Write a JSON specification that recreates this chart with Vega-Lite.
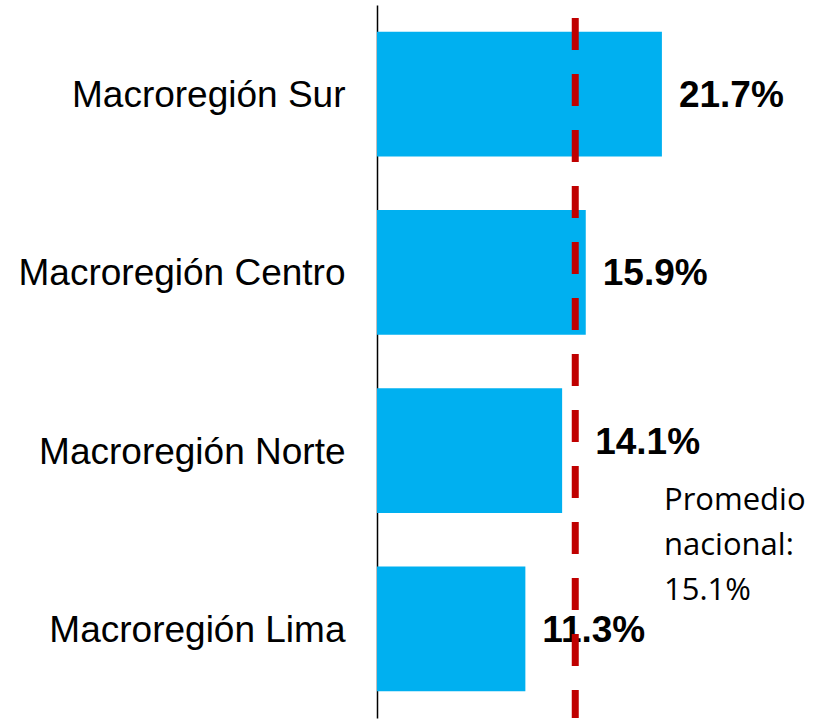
{
  "$schema": "https://vega.github.io/schema/vega-lite/v6.json",
  "autosize": "none",
  "width": 438,
  "height": 713,
  "padding": {"left": 377, "top": 5, "right": 0, "bottom": 3},
  "background": "white",
  "config": {"view": {"stroke": null}},
  "datasets": {
    "bars": [
      {"region": "Macroregión Sur", "value": 21.7, "label": "21.7%"},
      {"region": "Macroregión Centro", "value": 15.9, "label": "15.9%"},
      {"region": "Macroregión Norte", "value": 14.1, "label": "14.1%"},
      {"region": "Macroregión Lima", "value": 11.3, "label": "11.3%"}
    ],
    "avg": [
      {"value": 15.1, "region": "Macroregión Norte", "note": ["Promedio", "nacional:", "15.1%"], "noteX": 21.86}
    ]
  },
  "encoding": {
    "y": {
      "field": "region",
      "type": "nominal",
      "sort": ["Macroregión Sur", "Macroregión Centro", "Macroregión Norte", "Macroregión Lima"],
      "scale": {"paddingInner": 0.3, "paddingOuter": 0.15},
      "axis": {
        "title": null,
        "ticks": false,
        "labelFont": "Liberation Sans",
        "labelFontSize": 37,
        "labelColor": "black",
        "labelPadding": 32,
        "labelLimit": 400,
        "labelOffset": 2,
        "domainColor": "black",
        "domainWidth": 1.5,
        "grid": false
      }
    }
  },
  "layer": [
    {
      "data": {"name": "bars"},
      "mark": {"type": "bar", "color": "#00B0F0"},
      "encoding": {
        "x": {"field": "value", "type": "quantitative", "scale": {"domain": [0, 33.36], "nice": false, "zero": true}, "axis": null}
      }
    },
    {
      "data": {"name": "bars"},
      "transform": [{"filter": "datum.region !== 'Macroregión Norte'"}],
      "mark": {"type": "text", "align": "left", "baseline": "middle", "dx": 17, "dy": 2, "font": "Liberation Sans", "fontSize": 37, "fontWeight": "bold", "color": "black"},
      "encoding": {
        "x": {"field": "value", "type": "quantitative"},
        "text": {"field": "label"}
      }
    },
    {
      "data": {"name": "bars"},
      "transform": [{"filter": "datum.region === 'Macroregión Norte'"}],
      "mark": {"type": "text", "align": "left", "baseline": "middle", "dx": 33, "dy": -8, "font": "Liberation Sans", "fontSize": 37, "fontWeight": "bold", "color": "black"},
      "encoding": {
        "x": {"field": "value", "type": "quantitative"},
        "text": {"field": "label"}
      }
    },
    {
      "data": {"name": "avg"},
      "mark": {"type": "rule", "color": "#C00000", "strokeWidth": 7, "strokeDash": [32, 24], "strokeDashOffset": 43},
      "encoding": {
        "x": {"field": "value", "type": "quantitative"},
        "y": null
      }
    },
    {
      "data": {"name": "avg"},
      "mark": {"type": "text", "align": "left", "baseline": "alphabetic", "dy": 59, "font": "Open Sans", "fontSize": 31, "lineHeight": 45, "color": "black"},
      "encoding": {
        "x": {"field": "noteX", "type": "quantitative"},
        "text": {"field": "note"}
      }
    }
  ]
}
